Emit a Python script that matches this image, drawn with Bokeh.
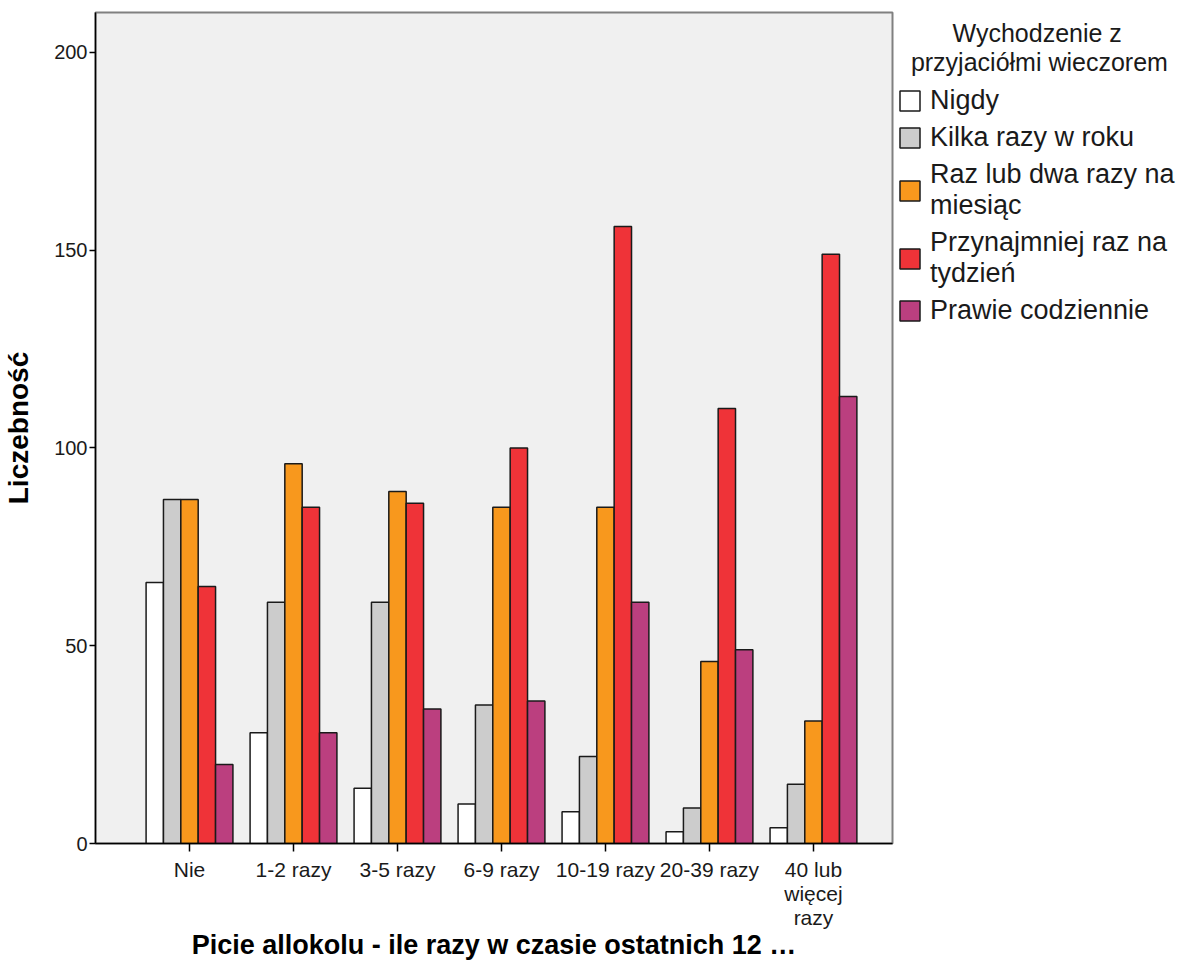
from bokeh.plotting import figure
from bokeh.models import FixedTicker, Legend, LegendItem, Range1d
from bokeh.embed import file_html
from bokeh.resources import INLINE

categories = ["Nie", "1-2 razy", "3-5 razy", "6-9 razy", "10-19 razy", "20-39 razy", "40 lub\nwięcej\nrazy"]
series_names = ["Nigdy", "Kilka razy w roku", "Raz lub dwa razy na\nmiesiąc",
                "Przynajmniej raz na\ntydzień", "Prawie codziennie"]
legend_title_lines = ["Wychodzenie z", "przyjaciółmi wieczorem"]
nigdy = [66, 28, 14, 10, 8, 3, 4]
kilka = [87, 61, 61, 35, 22, 9, 15]
raz_dwa = [87, 96, 89, 85, 85, 46, 31]
przynajmniej = [65, 85, 86, 100, 156, 110, 149]
prawie = [20, 28, 34, 36, 61, 49, 113]
colors = ["#ffffff", "#cccccc", "#f8981d", "#ef3338", "#bb3f7f"]
y_ticks = [0, 50, 100, 150, 200]

FONT = "Liberation Sans"
NB = "\u00a0"

p = figure(frame_width=797, frame_height=831, output_backend="svg", toolbar_location=None,
           x_range=Range1d(-0.904, 6.76), y_range=Range1d(0, 210.1),
           min_border_left=95, min_border_top=12, min_border_right=296, min_border_bottom=125)
p.background_fill_color = "#f0f0f0"
p.border_fill_color = "white"
p.outline_line_color = "#808080"
p.outline_line_width = 2
p.xgrid.visible = False
p.ygrid.visible = False

bw = 0.167
offsets = [-2 * bw, -bw, 0, bw, 2 * bw]
all_series = [nigdy, kilka, raz_dwa, przynajmniej, prawie]
items = []
idx = list(range(len(categories)))
for name, vals, off, col in zip(series_names, all_series, offsets, colors):
    r = p.vbar(x=[i + off for i in idx], top=vals, width=bw, bottom=0,
               fill_color=col, line_color="#1a1a1a", line_width=1.5)
    items.append(LegendItem(label=name, renderers=[r]))

p.xaxis.ticker = FixedTicker(ticks=idx)
p.xaxis.major_label_overrides = {i: c for i, c in zip(idx, categories)}
p.xaxis.minor_tick_line_color = None
p.xaxis.major_tick_in = 0
p.xaxis.major_tick_out = 8
p.xaxis.major_tick_line_width = 1.5
p.xaxis.axis_line_width = 1.5
p.xaxis.major_label_text_font = FONT
p.xaxis.major_label_text_font_size = "21px"
p.xaxis.major_label_text_line_height = 1.05
p.xaxis.major_label_text_color = "#1a1a1a"
p.xaxis.major_label_standoff = 6
p.xaxis.axis_label = "Picie allokolu - ile razy w czasie ostatnich 12 …"
p.xaxis.axis_label_text_font = FONT
p.xaxis.axis_label_text_font_size = "27px"
p.xaxis.axis_label_text_font_style = "bold"
p.xaxis.axis_label_text_color = "#000000"
p.xaxis.axis_label_standoff = -2

p.yaxis.ticker = FixedTicker(ticks=y_ticks)
p.yaxis.minor_tick_line_color = None
p.yaxis.major_tick_in = 0
p.yaxis.major_tick_out = 6
p.yaxis.major_tick_line_width = 1.5
p.yaxis.axis_line_width = 1.5
p.yaxis.major_label_text_font = FONT
p.yaxis.major_label_text_font_size = "20px"
p.yaxis.major_label_text_color = "#1a1a1a"
p.yaxis.major_label_standoff = 2
p.yaxis.axis_label = "Liczebność"
p.yaxis.axis_label_text_font = FONT
p.yaxis.axis_label_text_font_size = "28px"
p.yaxis.axis_label_text_font_style = "bold"
p.yaxis.axis_label_text_color = "#000000"
p.yaxis.axis_label_standoff = 17

legend = Legend(items=items, location=(5, 517), orientation="vertical")
legend.title = NB * 8 + legend_title_lines[0] + "\n" + NB * 2 + legend_title_lines[1]
legend.title_text_font = FONT
legend.title_text_font_size = "25px"
legend.title_text_font_style = "normal"
legend.title_text_color = "#1a1a1a"
legend.title_text_line_height = 1.0
legend.title_standoff = 8
legend.label_text_font = FONT
legend.label_text_font_size = "27px"
legend.label_text_color = "#1a1a1a"
legend.glyph_width = 25
legend.glyph_height = 25
legend.label_standoff = 8
legend.spacing = 6
legend.padding = 0
legend.margin = 0
legend.border_line_color = None
legend.background_fill_alpha = 0
p.add_layout(legend, "right")

open("out.html", "w").write(file_html(p, INLINE))
